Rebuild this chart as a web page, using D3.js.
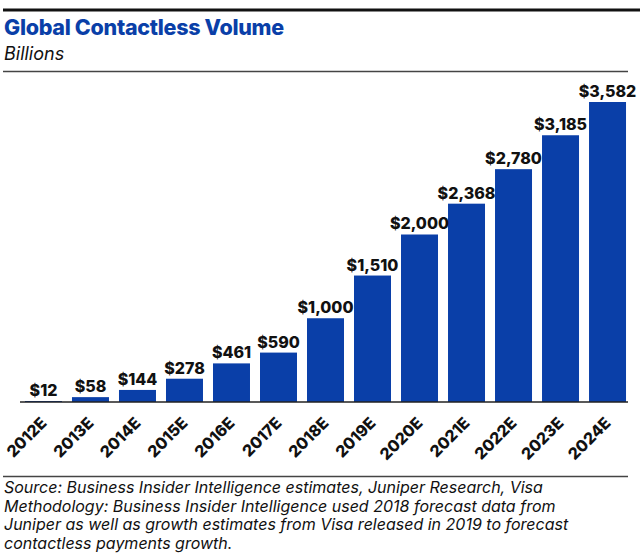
<!DOCTYPE html>
<html><head><meta charset="utf-8">
<script src="https://cdn.jsdelivr.net/npm/d3@7"></script>
<style>body{margin:0;background:#fff;}svg{display:block;font-family:"Inter","Open Sans",sans-serif;}</style>
</head><body>
<svg id="c" width="640" height="557"></svg>
<script>
const categories = ["2012E","2013E","2014E","2015E","2016E","2017E","2018E","2019E","2020E","2021E","2022E","2023E","2024E"];
const values = [12,58,144,278,461,590,1000,1510,2000,2368,2780,3185,3582];
const valueLabels = ["$12","$58","$144","$278","$461","$590","$1,000","$1,510","$2,000","$2,368","$2,780","$3,185","$3,582"];
const footer = [
 "Source: Business Insider Intelligence estimates, Juniper Research, Visa",
 "Methodology: Business Insider Intelligence used 2018 forecast data from",
 "Juniper as well as growth estimates from Visa released in 2019 to forecast",
 "contactless payments growth."
];
const svg = d3.select("#c");
const blue = "#0A3FA8";
svg.append("line").attr("x1",3).attr("x2",640).attr("y1",10).attr("y2",10).attr("stroke","#111").attr("stroke-width",3);
svg.append("text").attr("x",4).attr("y",35).attr("fill",blue).attr("font-size",21.5).attr("font-weight",800).attr("letter-spacing",-0.3).text("Global Contactless Volume");
svg.append("text").attr("x",4).attr("y",60).attr("fill","#111").attr("font-size",18).attr("font-style","italic").text("Billions");
svg.append("line").attr("x1",3).attr("x2",628).attr("y1",71.5).attr("y2",71.5).attr("stroke","#444").attr("stroke-width",1.5);

const x = d3.scaleBand().domain(categories).range([20,631]).paddingInner(0.213).paddingOuter(0.106);
const y = d3.scaleLinear().domain([0,3582]).range([402,102]);
svg.selectAll("rect.bar").data(values).join("rect").attr("class","bar")
 .attr("x",(d,i)=>x(categories[i])).attr("width",x.bandwidth())
 .attr("y",d=>y(d)).attr("height",d=>402-y(d)).attr("fill",blue);
svg.selectAll("text.val").data(values).join("text").attr("class","val")
 .attr("x",(d,i)=>x(categories[i])+x.bandwidth()/2).attr("y",d=>y(d)-5)
 .attr("text-anchor","middle").attr("font-size",16).attr("font-weight",800).attr("fill","#111")
 .text((d,i)=>valueLabels[i]);
const ax = svg.append("g").attr("transform","translate(0,402)").call(d3.axisBottom(x).tickSize(0).tickSizeOuter(0));
ax.select(".domain").attr("stroke","#222").attr("stroke-width",1.5).attr("d","M20,0H628");
ax.selectAll("text").attr("font-size",16).attr("font-weight",800).attr("fill","#111")
 .attr("font-family","Inter, Open Sans, sans-serif")
 .attr("text-anchor","end").attr("dy",null).attr("dx",null)
 .attr("transform","translate(1,19) rotate(-45)").attr("y",0).attr("x",0).attr("dominant-baseline","middle");
svg.append("line").attr("x1",3).attr("x2",628).attr("y1",476.5).attr("y2",476.5).attr("stroke","#444").attr("stroke-width",1.5);
svg.selectAll("text.foot").data(footer).join("text").attr("class","foot")
 .attr("x",4).attr("y",(d,i)=>493+i*18.5).attr("font-size",16).attr("font-style","italic").attr("fill","#111").text(d=>d);
</script>
</body></html>
